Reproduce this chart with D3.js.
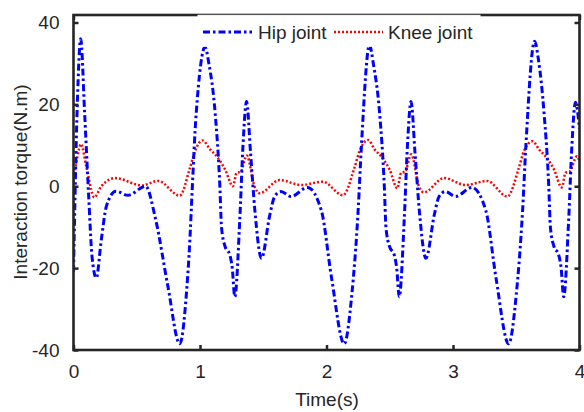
<!DOCTYPE html>
<html><head><meta charset="utf-8">
<script src="https://cdn.jsdelivr.net/npm/d3@7"></script>
<style>body{margin:0;background:#fff}svg{display:block}text{font-family:"Liberation Sans",Arial,sans-serif;fill:#262626}</style>
</head><body>
<script>
// ---- data ----
const xTicks = [0, 1, 2, 3, 4];
const yTicks = [-40, -20, 0, 20, 40];
const seriesNames = ["Hip joint", "Knee joint"];
const hipT = [0, 0.03, 0.057, 0.088, 0.12, 0.146, 0.18, 0.22, 0.26, 0.335, 0.43, 0.57, 0.65, 0.746, 0.84, 0.905, 0.97, 1.04,
  1.07, 1.12, 1.157, 1.17, 1.197, 1.236, 1.255, 1.275, 1.315, 1.34, 1.368, 1.40, 1.434, 1.486, 1.552, 1.59, 1.64, 1.72, 1.85, 1.96, 2.04, 2.14, 2.2, 2.25, 2.276, 2.34,
  2.37, 2.42, 2.457, 2.47, 2.497, 2.536, 2.555, 2.575, 2.615, 2.64, 2.668, 2.70, 2.734, 2.786, 2.852, 2.89, 2.94, 3.02, 3.15, 3.26, 3.34, 3.44, 3.5, 3.55, 3.576, 3.645,
  3.675, 3.72, 3.757, 3.77, 3.797, 3.836, 3.855, 3.875, 3.915, 3.94, 3.968, 4.0];
const hipV = [-21, 20, 36, 17.8, -2.4, -17, -22.4, -13, -4.9, -1.2, -2.2, 0, -8.2, -24.4, -38.5, -21, 17.8, 34,
  30, 17.8, 0, -10, -14.6, -16.8, -20, -27, -7.8, 10, 20.7, 8, -6, -17.6, -7, -2.5, -1.3, -2.5, -0.3, -6, -22.4, -38.5, -26.5, -6, 9.8, 34.5,
  30, 17.8, 0, -10, -14.6, -16.8, -20, -27, -7.8, 10, 20.7, 8, -6, -17.6, -7, -2.5, -1.3, -2.5, -0.3, -6, -22.4, -38.5, -26.5, -6, 9.8, 35.4,
  31, 17.8, 0, -10, -14.6, -16.8, -20, -27, -7.8, 10, 20.5, 14];
const kneeT = [0, 0.03, 0.06, 0.1, 0.165, 0.22, 0.33, 0.54, 0.67, 0.84, 0.92, 0.96, 1.02, 1.08, 1.14, 1.2, 1.26, 1.29, 1.32, 1.37, 1.43, 1.47, 1.63, 1.80, 1.97, 2.13, 2.22, 2.26, 2.33,
  2.38, 2.44, 2.5, 2.56, 2.59, 2.62, 2.67, 2.73, 2.77, 2.93, 3.10, 3.27, 3.43, 3.52, 3.56, 3.63, 3.68, 3.74, 3.8, 3.86, 3.89, 3.92, 3.98, 4.0];
const kneeV = [1, 7, 10.3, 5, -2.7, 0, 2, 0.2, 1.3, -2.3, 4.4, 8.5, 11.2, 9, 7, 4, 0, 3.3, 3.5, 7.5, 0, -1.7, 1.5, 0.3, 1.1, -2.2, 4.4, 8.5, 11.3,
  9, 7, 4, -0.5, 3.3, 3.5, 7.8, 0, -1.5, 2, 0.3, 1.3, -2.5, 4.4, 8.5, 11, 9, 7, 4, -0.3, 3.3, 3.5, 7.3, 6];

const W = 584, H = 412;
const X0 = 73.5, X1 = 579.5, Y0 = 350, Y1 = 15;
const svg = d3.select("body").append("svg").attr("width", W).attr("height", H);
const x = d3.scaleLinear().domain([0, 4]).range([X0, X1]);
const y = d3.scaleLinear().domain([-40, 41.83]).range([Y0, Y1]);

svg.append("defs").append("clipPath").attr("id", "clip")
  .append("rect").attr("x", X0).attr("y", Y1).attr("width", X1 - X0).attr("height", Y0 - Y1);

const line = d3.line().x(d => x(d[0])).y(d => y(d[1])).curve(d3.curveMonotoneX);
const hip = hipT.map((t, i) => [t, hipV[i]]);
const knee = kneeT.map((t, i) => [t, kneeV[i]]);

const g = svg.append("g").attr("clip-path", "url(#clip)");
g.append("path").datum(knee).attr("d", line).attr("fill", "none")
  .attr("stroke", "#ff0000").attr("stroke-width", 2.5).attr("stroke-dasharray", "2,2");
g.append("path").datum(hip).attr("d", line).attr("fill", "none")
  .attr("stroke", "#0000ff").attr("stroke-width", 3).attr("stroke-dasharray", "7,3,2.5,3");

// axes
const axCol = "#262626";
const fmt = d => String(d);
const gx = svg.append("g").attr("transform", `translate(0,${Y0})`)
  .call(d3.axisBottom(x).tickValues(xTicks).tickSizeInner(-5).tickSizeOuter(0).tickPadding(15).tickFormat(fmt));
const gy = svg.append("g").attr("transform", `translate(${X0},0)`)
  .call(d3.axisLeft(y).tickValues(yTicks).tickSizeInner(-5).tickSizeOuter(0).tickPadding(14).tickFormat(fmt));
const gxt = svg.append("g").attr("transform", `translate(0,${Y1})`)
  .call(d3.axisTop(x).tickValues(xTicks).tickSizeInner(-5).tickSizeOuter(0).tickFormat(""));
const gyr = svg.append("g").attr("transform", `translate(${X1},0)`)
  .call(d3.axisRight(y).tickValues(yTicks).tickSizeInner(-5).tickSizeOuter(0).tickFormat(""));
[gx, gy, gxt, gyr].forEach(a => {
  a.select(".domain").remove();
  a.selectAll(".tick line").attr("stroke", axCol).attr("stroke-width", 2.5);
  a.selectAll(".tick text").attr("font-size", 19).style("fill", axCol);
});
gx.selectAll(".tick text").attr("dy", "0.71em");
svg.append("rect").attr("x", X0).attr("y", Y1).attr("width", X1 - X0).attr("height", Y0 - Y1)
  .attr("fill", "none").attr("stroke", axCol).attr("stroke-width", 2.6);

// axis labels
svg.append("text").attr("x", 327).attr("y", 406).attr("text-anchor", "middle")
  .attr("font-size", 19).text("Time(s)");
svg.append("text").attr("transform", `translate(27,182) rotate(-90)`).attr("text-anchor", "middle")
  .attr("font-size", 19).text("Interaction torque(N.m)");

// legend
const lg = svg.append("g");
lg.append("rect").attr("x", 198).attr("y", 15.3).attr("width", 282).attr("height", 31)
  .attr("fill", "#fff").attr("stroke", "#fff").attr("stroke-width", 1);
const legendItems = [
  {name: seriesNames[0], x0: 203, x1: 252, tx: 258, color: "#0000ff", w: 3, dash: "7,3,2.5,3"},
  {name: seriesNames[1], x0: 334, x1: 383, tx: 388, color: "#ff0000", w: 2.5, dash: "2,2"}
];
legendItems.forEach(it => {
  lg.append("line").attr("x1", it.x0).attr("x2", it.x1).attr("y1", 32).attr("y2", 32)
    .attr("stroke", it.color).attr("stroke-width", it.w).attr("stroke-dasharray", it.dash);
  lg.append("text").attr("x", it.tx).attr("y", 39).attr("font-size", 19).text(it.name);
});
</script>
</body></html>
